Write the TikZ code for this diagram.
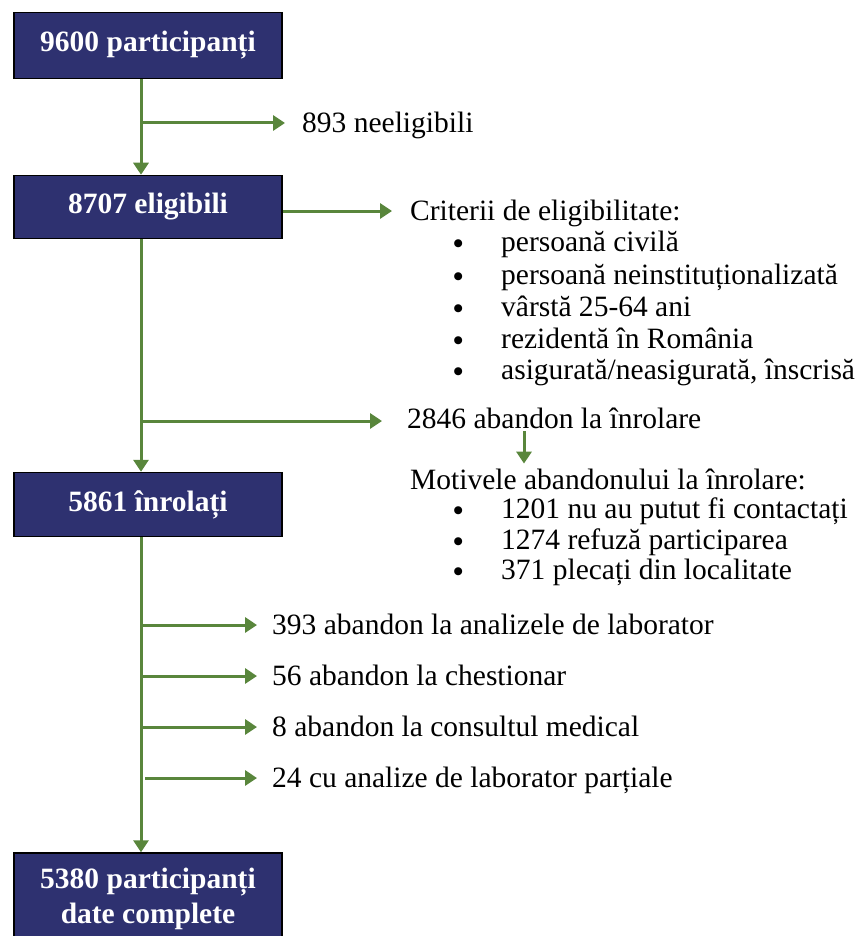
\documentclass[tikz,border=0pt]{standalone}
\usepackage{fontspec}
\setmainfont{Liberation Serif}
\usetikzlibrary{arrows.meta}
\definecolor{navybox}{RGB}{46,49,112}
\definecolor{grn}{RGB}{89,134,60}
\newcommand{\bulitem}{\makebox[48pt][l]{\raisebox{-2pt}{\bfseries •}}}
\tikzset{
  box/.style={draw=black, line width=1.5pt, fill=navybox, text=white,
    font=\bfseries\fontsize{29.5}{35}\selectfont, minimum width=268pt,
    inner sep=0pt, align=center},
  lbl/.style={anchor=west, inner sep=0pt, font=\fontsize{29.5}{32}\selectfont,
    text height=25pt, text depth=5.4pt},
  arr/.style={draw=grn, line width=3pt, -{Triangle[width=15pt,length=12pt]}},
}
\begin{document}
\begin{tikzpicture}[x=1pt,y=-1pt]
\clip (0,0) rectangle (863,936);
\fill[white] (0,0) rectangle (863,936);

% boxes
\node[box, minimum height=66] (b1) at (148,45.5) {9600 participanți};
\node[box, minimum height=63] (b2) at (148,207) {8707 eligibili};
\node[box, minimum height=64] (b3) at (148,504.5) {\raisebox{-4pt}{5861 înrolați}};
\node[box, minimum height=92] (b4) at (148,899) {5380 participanți\\date complete};

\coordinate (sx) at (141,0);
\coordinate (ax) at (524,0);

% first branch
\node[lbl] (n893) at (302,123) {893 neeligibili};
\coordinate (j1) at (141,123);

% criteria
\node[lbl] (crit) at (410,211) {Criterii de eligibilitate:};
\node[lbl] (ci1) at (453,242) {\bulitem persoană civilă};
\node[lbl] (ci2) at (453,275) {\bulitem persoană neinstituționalizată};
\node[lbl] (ci3) at (453,307) {\bulitem vârstă 25-64 ani};
\node[lbl] (ci4) at (453,339) {\bulitem rezidentă în România};
\node[lbl] (ci5) at (453,370) {\bulitem asigurată/neasigurată, înscrisă};

% enrolment dropout
\node[lbl] (n2846) at (407,419) {2846 abandon la înrolare};
\coordinate (j2) at (141,421);
\node[lbl] (mot) at (410,480) {Motivele abandonului la înrolare:};
\node[lbl] (mi1) at (453,509) {\bulitem 1201 nu au putut fi contactați};
\node[lbl] (mi2) at (453,540) {\bulitem 1274 refuză participarea};
\node[lbl] (mi3) at (453,570) {\bulitem 371 plecați din localitate};

% later dropouts
\node[lbl] (n393) at (272,625) {393 abandon la analizele de laborator};
\node[lbl] (n56) at (272,676) {56 abandon la chestionar};
\node[lbl] (n8) at (272,727) {8 abandon la consultul medical};
\node[lbl] (n24) at (272,778) {24 cu analize de laborator parțiale};
\coordinate (j3) at (141,625);
\coordinate (j4) at (141,676);
\coordinate (j5) at (141,727);
\coordinate (j6) at (145,778);

% connectors
\draw[arr] (b1.south -| sx) -- (b2.north -| sx);
\draw[arr] (j1) -- ([xshift=-17pt]n893.west);
\draw[arr] (b2.east |- crit.west) -- ([xshift=-18pt]crit.west);
\draw[arr] (b2.south -| sx) -- (b3.north -| sx);
\draw[arr] (j2) -- ([xshift=-25pt]n2846.west |- j2);
\draw[arr] ([yshift=3pt]n2846.south -| ax) -- ([yshift=1pt]mot.north -| ax);
\draw[arr] (b3.south -| sx) -- (b4.north -| sx);
\draw[arr] (j3) -- ([xshift=-15pt]n393.west);
\draw[arr] (j4) -- ([xshift=-15pt]n56.west);
\draw[arr] (j5) -- ([xshift=-15pt]n8.west);
\draw[arr] (j6) -- ([xshift=-15pt]n24.west);
\end{tikzpicture}
\end{document}
